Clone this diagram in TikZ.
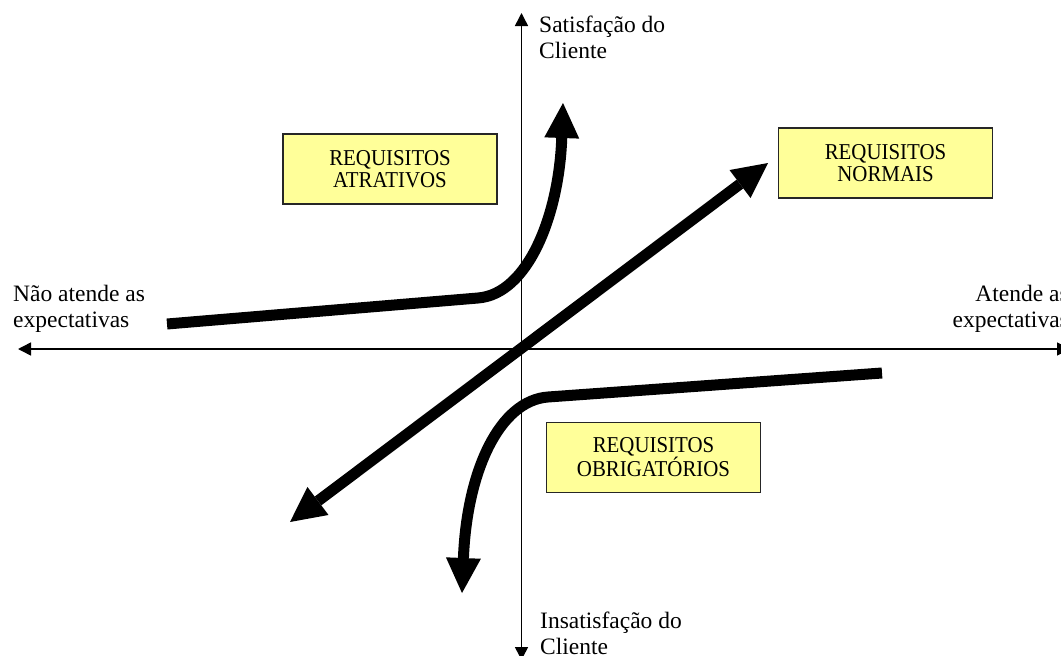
\documentclass[tikz,border=0pt]{standalone}
\usepackage{fontspec}
\setmainfont{Liberation Serif}
\newfontfamily\boxfont{Liberation Serif}[FakeStretch=0.92]
\usetikzlibrary{arrows.meta}

% two-line labels with a fixed first baseline
\newcommand\leftpair[2]{\vtop{\halign{##\hfil\cr #1\cr #2\cr}}}
\newcommand\rightpair[2]{\vtop{\halign{\hfil##\cr #1\cr #2\cr}}}
\newcommand\centerpair[2]{\vtop{\halign{\hfil##\hfil\cr #1\cr #2\cr}}}

\definecolor{reqyellow}{HTML}{FFFF99}

\tikzset{
  axisline/.style={line width=1.5pt, {Triangle[length=13pt,width=13pt]}-{Triangle[length=13pt,width=13pt]}},
  bigtip/.style={-{Triangle[length=35pt,width=35pt,line width=0pt]}},
  trend/.style={line width=11pt, line cap=butt, line join=round},
  reqbox/.style={draw=black!85, line width=1.6pt, fill=reqyellow,
    minimum width=214pt, minimum height=70pt, inner sep=0pt,
    font=\boxfont\fontsize{22.7}{22}\selectfont},
  axislabel/.style={inner sep=0pt, font=\fontsize{23.5}{26}\selectfont}
}

\begin{document}
\begin{tikzpicture}[x=1pt,y=-1pt]
  \useasboundingbox (0,0) rectangle (1061,656);

  % axes
  \coordinate (axL) at (18,349);
  \coordinate (axR) at (1070,349);
  \coordinate (axT) at (521.5,13);
  \coordinate (axB) at (521.5,660);
  \draw[axisline] (axL) -- (axR);
  \draw[axisline] (axB) -- (axT);

  % axis labels
  \node[axislabel, anchor=base west] (sat) at (539,32) {\leftpair{Satisfação do}{Cliente}};
  \node[axislabel, anchor=base west] (ins) at (540,628) {\leftpair{Insatisfação do}{Cliente}};
  \node[axislabel, anchor=base west] (nao) at (13,301) {\leftpair{Não atende as}{expectativas}};
  \node[axislabel, anchor=base east] (ate) at (1069,301) {\rightpair{Atende as}{expectativas}};

  % requirement boxes
  \node[reqbox] (atr) at (390,169) {\centerpair{REQUISITOS}{ATRATIVOS}};
  \node[reqbox] (nor) at (885.5,163) {\centerpair{REQUISITOS}{NORMAIS}};
  \node[reqbox] (obr) at (653.5,457.5) {\centerpair{REQUISITOS}{OBRIGATÓRIOS}};

  % attractive requirements curve
  \coordinate (aStart) at (167,324);
  \coordinate (aBend) at (478,298);
  \coordinate (aTip) at (563,103);
  \draw[trend, bigtip] (aStart) -- (aBend) .. controls (528,294) and (559,215) .. (aTip);

  % normal requirements line
  \coordinate (nLow) at (290,522);
  \coordinate (nHigh) at (768,163);
  \draw[trend, {Triangle[length=35pt,width=35pt,line width=0pt]}-{Triangle[length=35pt,width=35pt,line width=0pt]}] (nLow) -- (nHigh);

  % must-be requirements curve
  \coordinate (oStart) at (882,373);
  \coordinate (oBend) at (548,397);
  \coordinate (oTip) at (462,593);
  \draw[trend, bigtip] (oStart) -- (oBend) .. controls (500,400.5) and (467,470) .. (oTip);
\end{tikzpicture}
\end{document}
